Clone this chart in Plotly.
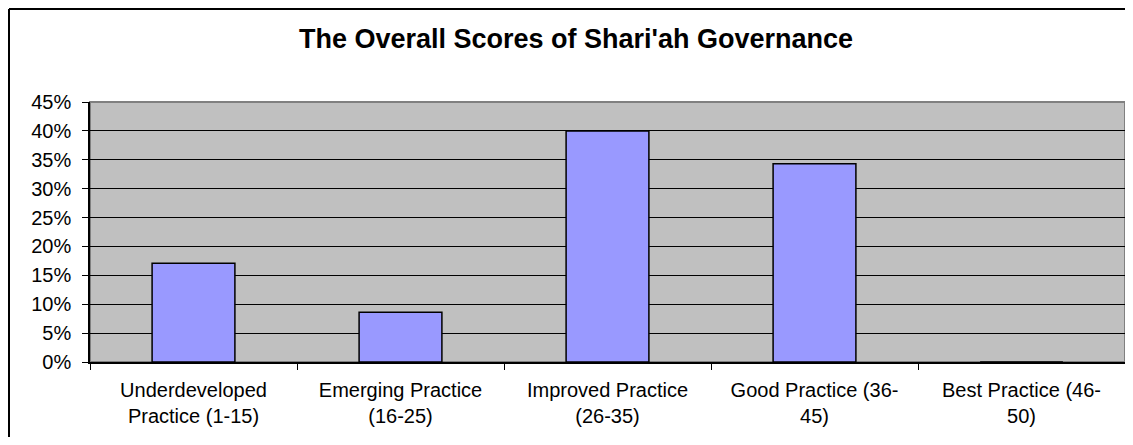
import plotly.graph_objects as go

categories = [
    "Underdeveloped<br>Practice (1-15)",
    "Emerging Practice<br>(16-25)",
    "Improved Practice<br>(26-35)",
    "Good Practice (36-<br>45)",
    "Best Practice (46-<br>50)",
]
shares = [0.171, 0.086, 0.400, 0.343, 0.0]
y_tick_values = [0, 0.05, 0.10, 0.15, 0.20, 0.25, 0.30, 0.35, 0.40, 0.45]
y_tick_labels = ["0%", "5%", "10%", "15%", "20%", "25%", "30%", "35%", "40%", "45%"]
title_text = "The Overall Scores of Shari'ah Governance"

# page body has an 8px margin, so the figure is placed at (8, 8)
OFF = 8
W, H = 1133 - 2 * OFF, 445 - 2 * OFF
L, R, T, B = 90 - OFF, 0, 102 - OFF, 83 - OFF
pw = W - L - R
ph = H - T - B

FONT = "Liberation Sans, Arial, sans-serif"

fig = go.Figure()
fig.add_trace(go.Bar(
    x=categories,
    y=shares,
    marker=dict(color="#9999FF", line=dict(color="#000000", width=1.5)),
    width=0.4,
    hoverinfo="x+y",
))

# outer chart border: only left and top edges are visible in the reference
bx0 = (9 - OFF - L) / pw
bx1 = (W + 20 - L) / pw
by1 = (H - B - (9 - OFF)) / ph
by0 = (H - B - (H + 20)) / ph

fig.update_layout(
    width=W,
    height=H,
    margin=dict(l=L, r=R, t=T, b=B, autoexpand=False),
    paper_bgcolor="white",
    plot_bgcolor="#C0C0C0",
    showlegend=False,
    font=dict(family=FONT, color="black", size=20),
    title=dict(
        text="<b>" + title_text + "</b>",
        x=(576 - OFF) / W,
        xanchor="center",
        y=1 - (39 - OFF) / H,
        yanchor="middle",
        font=dict(family=FONT, size=27, color="black"),
    ),
    xaxis=dict(
        type="category",
        showgrid=False,
        showline=True,
        linecolor="black",
        linewidth=1.5,
        ticks="outside",
        tickson="boundaries",
        ticklen=6,
        tickcolor="black",
        ticklabelstandoff=9,
        tickfont=dict(family=FONT, size=20, color="black"),
        fixedrange=True,
    ),
    yaxis=dict(
        range=[0, 0.45],
        tickvals=y_tick_values,
        ticktext=y_tick_labels,
        showgrid=True,
        gridcolor="#000000",
        gridwidth=1,
        zeroline=False,
        showline=True,
        linecolor="black",
        linewidth=1.5,
        ticks="outside",
        ticklen=6,
        tickcolor="black",
        ticklabelstandoff=7,
        tickfont=dict(family=FONT, size=20, color="black"),
        fixedrange=True,
    ),
    shapes=[
        dict(type="rect", xref="paper", yref="paper", x0=0, x1=1, y0=0, y1=1,
             line=dict(color="#808080", width=2), layer="below"),
        dict(type="line", xref="paper", yref="paper", x0=bx0, x1=bx0, y0=by0, y1=by1,
             line=dict(color="black", width=2), layer="above"),
        dict(type="line", xref="paper", yref="paper", x0=bx0, x1=bx1, y0=by1, y1=by1,
             line=dict(color="black", width=2), layer="above"),
    ],
)

fig.write_html("out.html")
